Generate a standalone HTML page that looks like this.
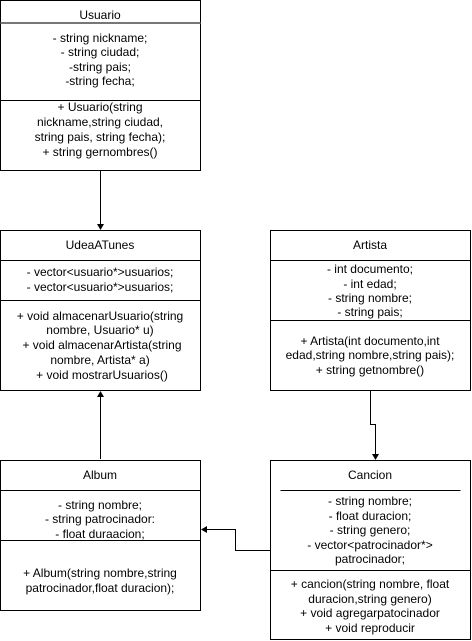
<!DOCTYPE html>
<html><head><meta charset="utf-8"><style>
html,body{margin:0;padding:0;background:#fff;}
svg{display:block;}
text{font-family:"Liberation Sans",Arial,sans-serif;font-size:12px;fill:#000;text-anchor:middle;}
</style></head><body>
<svg width="472" height="641" viewBox="0 0 472 641" xmlns="http://www.w3.org/2000/svg">
<g fill="#fff" stroke="#000" stroke-width="1">
<rect x="0.5" y="0.5" width="200" height="170"/>
<line x1="0.5" y1="23" x2="200.5" y2="23" stroke="#777" stroke-width="2"/>
<line x1="0.5" y1="100.5" x2="200.5" y2="100.5"/>
<rect x="0.5" y="230.5" width="200" height="160"/>
<line x1="0.5" y1="260.5" x2="200.5" y2="260.5"/>
<line x1="0.5" y1="300.5" x2="200.5" y2="300.5"/>
<rect x="270.5" y="230.5" width="200" height="160"/>
<line x1="270.5" y1="260.5" x2="470.5" y2="260.5"/>
<line x1="270.5" y1="320.5" x2="470.5" y2="320.5"/>
<rect x="0.5" y="460.5" width="200" height="150"/>
<line x1="0.5" y1="490.5" x2="200.5" y2="490.5"/>
<line x1="0.5" y1="540.5" x2="200.5" y2="540.5"/>
<rect x="270.5" y="460.5" width="200" height="179"/>
<line x1="280.5" y1="490.5" x2="460.5" y2="490.5"/>
<line x1="270.5" y1="570.5" x2="470.5" y2="570.5"/>
</g>
<g fill="none" stroke="#000" stroke-width="1">
<line x1="100.5" y1="171" x2="100.5" y2="224"/>
<line x1="100.5" y1="459" x2="100.5" y2="397"/>
<polyline points="370.5,391 370.5,424.5 375.5,424.5 375.5,454"/>
<polyline points="270,550.5 235.5,550.5 235.5,529.5 207,529.5"/>
</g>
<g fill="#000">
<polygon points="97,224 104,224 100.5,230"/>
<polygon points="97,397 104,397 100.5,391"/>
<polygon points="372,454 379,454 375.5,460"/>
<polygon points="207,526 207,533 201,529.5"/>
</g>
<text x="100" y="19" font-size="12.5">Usuario</text>
<text x="100" y="42">- string nickname;</text>
<text x="100" y="56">- string ciudad;</text>
<text x="100" y="71">-string pais;</text>
<text x="100" y="85">-string fecha;</text>
<text x="100" y="111">+ Usuario(string</text>
<text x="100" y="126">nickname,string ciudad,</text>
<text x="100" y="141">string pais, string fecha);</text>
<text x="100" y="156">+ string gernombres()</text>

<text x="100" y="249" font-size="12.5">UdeaATunes</text>
<text x="100" y="276">- vector&lt;usuario*&gt;usuarios;</text>
<text x="100" y="291">- vector&lt;usuario*&gt;usuarios;</text>
<text x="100" y="320">+ void almacenarUsuario(string</text>
<text x="100" y="334">nombre, Usuario* u)</text>
<text x="102" y="349">+ void almacenarArtista(string</text>
<text x="100" y="364">nombre, Artista* a)</text>
<text x="102" y="379">+ void mostrarUsuarios()</text>

<text x="370" y="249" font-size="12.5">Artista</text>
<text x="370" y="273">- int documento;</text>
<text x="370" y="288">- int edad;</text>
<text x="370" y="302">- string nombre;</text>
<text x="370" y="316">- string pais;</text>
<text x="370" y="345">+ Artista(int documento,int</text>
<text x="370" y="359">edad,string nombre,string pais);</text>
<text x="370" y="374">+ string getnombre()</text>

<text x="100" y="479" font-size="12.5">Album</text>
<text x="100" y="509">- string nombre;</text>
<text x="100" y="523">-  string patrocinador:</text>
<text x="100" y="538">- float duraacion;</text>
<text x="100" y="577">+ Album(string nombre,string</text>
<text x="100" y="592">patrocinador,float duracion);</text>

<text x="370" y="479" font-size="12.5">Cancion</text>
<text x="370" y="505">- string nombre;</text>
<text x="370" y="520">- float duracion;</text>
<text x="370" y="534">- string genero;</text>
<text x="370" y="549">- vector&lt;patrocinador*&gt;</text>
<text x="370" y="563">patrocinador;</text>
<text x="370" y="588">+ cancion(string nombre, float</text>
<text x="370" y="603">duracion,string genero)</text>
<text x="370" y="617">+ void agregarpatocinador</text>
<text x="370" y="632">+ void reproducir</text>
</svg>
</body></html>
